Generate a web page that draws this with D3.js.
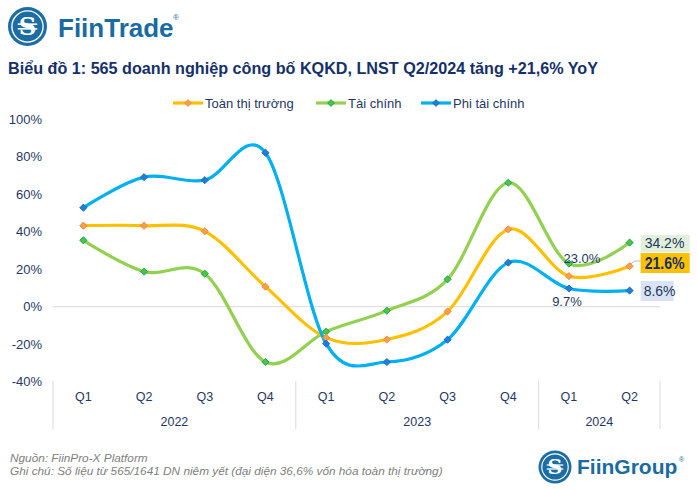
<!DOCTYPE html>
<html><head><meta charset="utf-8">
<script src="https://cdn.jsdelivr.net/npm/d3@7"></script>
<style>
html,body{margin:0;padding:0;background:#fff;}
svg{display:block;font-family:"Liberation Sans",Arial,sans-serif;}
</style></head>
<body>
<svg id="c" width="697" height="489"></svg>
<script>
// ---- data ----
const quarters = ["Q1","Q2","Q3","Q4","Q1","Q2","Q3","Q4","Q1","Q2"];
const years = ["2022","2023","2024"];
const yearCounts = [4,4,2];
const seriesNames = ["Toàn thị trường","Tài chính","Phi tài chính"];
const toanThiTruong = [43.2, 43.2, 40.2, 10.7, -16.5, -17.5, -2.6, 41.2, 16.3, 21.6];
const taiChinh      = [35.4, 18.7, 17.6, -29.5, -13.3, -2.1, 14.6, 66.1, 23.0, 34.2];
const phiTaiChinh   = [52.8, 69.1, 67.5, 82.1, -19.7, -29.5, -17.6, 23.5, 9.7, 8.6];
const yTicks = [-40,-20,0,20,40,60,80,100];
const titleText = "Biểu đồ 1: 565 doanh nghiệp công bố KQKD, LNST Q2/2024 tăng +21,6% YoY";
const sourceText = "Nguồn: FiinPro-X Platform";
const noteText = "Ghi chú: Số liệu từ 565/1641 DN niêm yết (đại diện 36,6% vốn hóa toàn thị trường)";

const navy = "#1F3864";
const lineColors = ["#FFC000","#92D050","#00B0F0"];
const markFill = ["#F6A04D","#4CC34A","#1E7FD8"];
const markStroke = ["#ED7D31","#00A040","#1060B8"];
const allSeries = [toanThiTruong, taiChinh, phiTaiChinh];

const svg = d3.select("#c");

// ---- logo top ----
function logo(g, cx, cy, r){
  g.append("circle").attr("cx",cx).attr("cy",cy).attr("r",r).attr("fill","#1B6DA3");
  g.append("circle").attr("cx",cx).attr("cy",cy).attr("r",r*0.8).attr("fill","none").attr("stroke","#fff").attr("stroke-width",r*0.07);
  g.append("text").attr("x",cx).attr("y",cy+r*0.42).attr("text-anchor","middle")
    .attr("font-family","'DejaVu Serif',serif").attr("font-weight","bold").attr("font-size",r*1.25)
    .attr("fill","#fff").text("S");
  g.append("line").attr("x1",cx-r*0.5).attr("x2",cx+r*0.5).attr("y1",cy-r*0.12).attr("y2",cy-r*0.12).attr("stroke","#fff").attr("stroke-width",r*0.08);
  g.append("line").attr("x1",cx-r*0.5).attr("x2",cx+r*0.5).attr("y1",cy+r*0.12).attr("y2",cy+r*0.12).attr("stroke","#fff").attr("stroke-width",r*0.08);
}
logo(svg.append("g"), 27.5, 26.5, 19.5);
svg.append("text").attr("x",58).attr("y",37).attr("font-weight","bold").attr("font-size",26)
  .attr("fill","#1A6BA0").text("FiinTrade");
svg.append("text").attr("x",173).attr("y",20).attr("font-size",8).attr("fill","#1A6BA0").text("®");

// ---- title ----
svg.append("text").attr("x",8).attr("y",74).attr("font-weight","bold").attr("font-size",17)
  .attr("fill","#14306B").attr("textLength",590).attr("lengthAdjust","spacingAndGlyphs").text(titleText);

// ---- scales ----
const x = d3.scaleBand().domain(d3.range(quarters.length)).range([53,660]).padding(0);
const y = d3.scaleLinear().domain([-40,100]).range([381.7,119.2]);
const cx = i => x(i) + x.bandwidth()/2;

// y labels
svg.append("g").selectAll("text").data(yTicks).join("text")
  .attr("x",42).attr("y",d=>y(d)).attr("dy","0.35em").attr("text-anchor","end")
  .attr("font-size",13).attr("fill",navy).text(d=>d+"%");

// zero line (category axis)
svg.append("line").attr("x1",53).attr("x2",660).attr("y1",y(0)).attr("y2",y(0))
  .attr("stroke","#D9D9D9").attr("stroke-width",1);

// category separators
let bounds=[0]; yearCounts.reduce((a,c)=>{bounds.push(a+c);return a+c;},0);
bounds.forEach(b=>{
  const xx = b<quarters.length ? x(b) : x(quarters.length-1)+x.bandwidth();
  svg.append("line").attr("x1",xx).attr("x2",xx).attr("y1",381).attr("y2",429)
    .attr("stroke","#D9D9D9").attr("stroke-width",1);
});
svg.append("g").selectAll("text").data(quarters).join("text")
  .attr("x",(d,i)=>cx(i)).attr("y",397).attr("dy","0.35em").attr("text-anchor","middle")
  .attr("font-size",12.5).attr("fill",navy).text(d=>d);
svg.append("g").selectAll("text").data(years).join("text")
  .attr("x",(d,i)=>{const s=bounds[i], e=bounds[i+1]; return (x(s)+x(e-1)+x.bandwidth())/2;})
  .attr("y",422).attr("dy","0.35em").attr("text-anchor","middle")
  .attr("font-size",12.5).attr("fill",navy).text(d=>d);

// ---- lines ----
const line = d3.line().x((d,i)=>cx(i)).y(d=>y(d)).curve(d3.curveCatmullRom.alpha(0));
const diamond = (px,py,h)=>`M${px},${py-h}L${px+h},${py}L${px},${py+h}L${px-h},${py}Z`;
[1,0,2].forEach(k=>{
  svg.append("path").attr("d",line(allSeries[k])).attr("fill","none")
    .attr("stroke",lineColors[k]).attr("stroke-width",3.2);
});
[1,0,2].forEach(k=>{
  svg.append("g").selectAll("path").data(allSeries[k]).join("path")
    .attr("d",(d,i)=>diamond(cx(i),y(d),3.6))
    .attr("fill",markFill[k]).attr("stroke",markStroke[k]).attr("stroke-width",0.8);
});

// ---- legend ----
const legX = [173,316,421];
seriesNames.forEach((n,k)=>{
  const g = svg.append("g");
  g.append("line").attr("x1",legX[k]).attr("x2",legX[k]+30).attr("y1",103).attr("y2",103)
    .attr("stroke",lineColors[k]).attr("stroke-width",3.2);
  g.append("path").attr("d",diamond(legX[k]+15,103,3.4)).attr("fill",markFill[k]).attr("stroke",markStroke[k]).attr("stroke-width",0.8);
  g.append("text").attr("x",legX[k]+32).attr("y",103).attr("dy","0.35em").attr("font-size",13)
    .attr("fill",navy).text(n);
});

// ---- data labels ----
const fmt = v=>v.toFixed(1)+"%";
const i1 = 8, i2 = 9;
svg.append("text").attr("x",cx(i1)+13).attr("y",258).attr("dy","0.35em").attr("text-anchor","middle")
  .attr("font-size",13).attr("fill",navy).text(fmt(taiChinh[i1]));
svg.append("text").attr("x",cx(i1)-2).attr("y",301).attr("dy","0.35em").attr("text-anchor","middle")
  .attr("font-size",13).attr("fill",navy).text(fmt(phiTaiChinh[i1]));

// boxed labels at last point
const bx = cx(i2)+11;
// green
svg.append("rect").attr("x",bx).attr("y",235).attr("width",49).attr("height",17).attr("fill","#E2EFDA");
svg.append("text").attr("x",bx+4).attr("y",243.5).attr("dy","0.35em").attr("font-size",14).attr("fill",navy).text(fmt(taiChinh[i2]));
// orange leader
svg.append("path").attr("d",`M${cx(i2)+1},${y(toanThiTruong[i2])-2}L${cx(i2)+5},${261}L${bx},${261}`)
  .attr("fill","none").attr("stroke","#A6A6A6").attr("stroke-width",0.8);
svg.append("rect").attr("x",bx).attr("y",253).attr("width",49).attr("height",20).attr("fill","#FFC000");
svg.append("text").attr("x",bx+4).attr("y",263).attr("dy","0.35em").attr("font-size",16).attr("font-weight","bold")
  .attr("fill","#14306B").attr("textLength",40).attr("lengthAdjust","spacingAndGlyphs").text(fmt(toanThiTruong[i2]));
// blue
svg.append("rect").attr("x",bx).attr("y",281).attr("width",33).attr("height",20).attr("fill","#DAE3F3");
svg.append("text").attr("x",bx+3).attr("y",291).attr("dy","0.35em").attr("font-size",14).attr("fill",navy).text(fmt(phiTaiChinh[i2]));

// ---- footer ----
svg.append("text").attr("x",10).attr("y",462).attr("font-size",11.8).attr("font-style","italic").attr("fill","#808080").text(sourceText);
svg.append("text").attr("x",10).attr("y",475).attr("font-size",11.8).attr("font-style","italic").attr("fill","#808080").text(noteText);
logo(svg.append("g"), 555, 467, 16.5);
svg.append("text").attr("x",577).attr("y",474).attr("font-weight","bold").attr("font-size",21)
  .attr("fill","#1A6BA0").text("FiinGroup");
svg.append("text").attr("x",679).attr("y",462).attr("font-size",7).attr("fill","#1A6BA0").text("®");
</script>
</body></html>
